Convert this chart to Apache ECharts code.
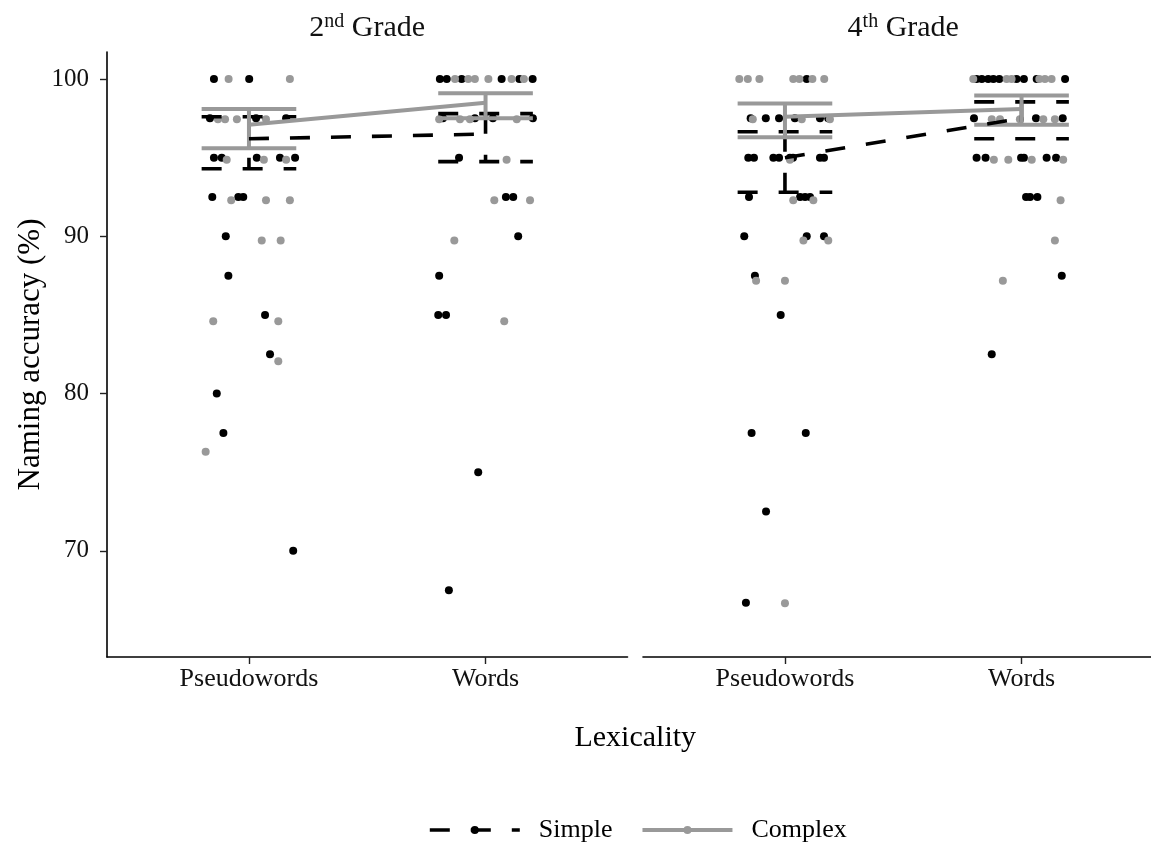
<!DOCTYPE html>
<html><head><meta charset="utf-8">
<script src="https://cdn.jsdelivr.net/npm/echarts@6/dist/echarts.min.js"></script>
<style>html,body{margin:0;padding:0;background:#fff;overflow:hidden;width:1151px;height:857px}#c{width:1175px;height:857px}</style>
</head><body><div id="c"></div>
<script>
// ---------- data ----------
const categories = ['Pseudowords', 'Words'];
const panelTitles = [['2', 'nd', ' Grade'], ['4', 'th', ' Grade']];
const yTickValues = [70, 80, 90, 100];
const legendNames = ['Simple', 'Complex'];
const xTitle = 'Lexicality';
const yTitle = 'Naming accuracy (%)';

// individual points: [position on category axis (1 = Pseudowords, 2 = Words, jittered), accuracy %]
const g2Simple = [
  [0.852,100],[1.001,100],
  [0.835,97.5],[1.030,97.5],[1.157,97.5],
  [0.852,95],[0.885,95],[1.033,95],[1.131,95],[1.195,95],
  [0.845,92.5],[0.955,92.5],[0.976,92.5],
  [0.902,90],[0.913,87.5],[1.068,85],[1.089,82.5],[0.864,80],[0.892,77.5],[1.187,70],
  [1.807,100],[1.836,100],[1.899,100],[2.068,100],[2.143,100],[2.199,100],
  [1.820,97.5],[1.955,97.5],[2.031,97.5],[2.200,97.5],
  [1.888,95],[2.086,92.5],[2.117,92.5],[2.138,90],[1.804,87.5],
  [1.800,85],[1.833,85],[1.969,75],[1.845,67.5]
];
const g2Complex = [
  [0.914,100],[1.173,100],
  [0.869,97.44],[0.899,97.44],[0.949,97.44],[1.072,97.44],
  [0.906,94.87],[1.063,94.87],[1.157,94.87],
  [0.925,92.3],[1.072,92.3],[1.173,92.3],
  [1.054,89.74],[1.134,89.74],[0.849,84.6],[1.124,84.6],[1.124,82.05],[0.817,76.3],
  [1.871,100],[1.927,100],[1.955,100],[2.012,100],[2.110,100],[2.162,100],
  [1.804,97.44],[1.892,97.44],[1.934,97.44],[2.132,97.44],
  [2.089,94.87],[2.037,92.3],[2.188,92.3],[1.868,89.74],[2.079,84.6]
];
const g4Simple = [
  [1.092,100],
  [0.855,97.5],[0.919,97.5],[0.975,97.5],[1.042,97.5],[1.148,97.5],[1.183,97.5],
  [0.845,95],[0.869,95],[0.951,95],[0.975,95],[1.021,95],[1.034,95],[1.148,95],[1.165,95],
  [0.848,92.5],[1.064,92.5],[1.085,92.5],[1.106,92.5],
  [0.828,90],[1.092,90],[1.165,90],[0.873,87.5],[0.982,85],
  [0.859,77.5],[1.088,77.5],[0.920,72.5],[0.835,66.7],
  [1.810,100],[1.832,100],[1.859,100],[1.881,100],[1.906,100],[1.979,100],[2.010,100],[2.064,100],[2.184,100],
  [1.799,97.5],[2.061,97.5],[2.174,97.5],
  [1.810,95],[1.848,95],[1.998,95],[2.010,95],[2.106,95],[2.146,95],
  [2.019,92.5],[2.036,92.5],[2.067,92.5],[2.170,87.5],[1.874,82.5]
];
const g4Complex = [
  [0.807,100],[0.843,100],[0.892,100],[1.035,100],[1.061,100],[1.116,100],[1.166,100],
  [0.864,97.44],[1.071,97.44],[1.190,97.44],
  [1.021,94.87],[1.035,92.3],[1.120,92.3],[1.078,89.74],[1.183,89.74],
  [0.878,87.18],[1.000,87.18],[1.000,66.67],
  [1.796,100],[1.937,100],[1.958,100],[2.075,100],[2.099,100],[2.127,100],
  [1.874,97.44],[1.909,97.44],[1.993,97.44],[2.092,97.44],[2.141,97.44],
  [1.883,94.87],[1.944,94.87],[2.043,94.87],[2.176,94.87],
  [2.165,92.3],[2.141,89.74],[1.921,87.18]
];

// summary: means and error-bar limits per category [Pseudowords, Words]
const g2SimpleMean = [96.2, 96.5], g2SimpleLow = [94.3, 94.75], g2SimpleHigh = [97.6, 97.8];
const g2ComplexMean = [97.1, 98.5], g2ComplexLow = [95.6, 97.5], g2ComplexHigh = [98.1, 99.1];
const g4SimpleMean = [95.0, 97.5], g4SimpleLow = [92.8, 96.2], g4SimpleHigh = [96.65, 98.55];
const g4ComplexMean = [97.6, 98.1], g4ComplexLow = [96.3, 97.1], g4ComplexHigh = [98.45, 98.95];

// ---------- style ----------
const FONT = 'Liberation Serif';
const BLACK = '#000000';
const GRAY = '#999999';
const DASH = [20, 21];
const EB_HALF = 0.2;

const panels = [
  { simple: g2Simple, complex: g2Complex,
    sm: g2SimpleMean, sl: g2SimpleLow, sh: g2SimpleHigh,
    cm: g2ComplexMean, cl: g2ComplexLow, ch: g2ComplexHigh },
  { simple: g4Simple, complex: g4Complex,
    sm: g4SimpleMean, sl: g4SimpleLow, sh: g4SimpleHigh,
    cm: g4ComplexMean, cl: g4ComplexLow, ch: g4ComplexHigh }
];

const gridLeft = [107, 643];
const gridWidth = 520.5;

function errorBarSeries(name, idx, low, high, color, width, dash) {
  const data = categories.map((c, i) => [i + 1, low[i], high[i]]);
  return {
    type: 'custom', name: name + '_eb', xAxisIndex: idx, yAxisIndex: idx,
    encode: { x: 0, y: [1, 2] }, data: data, silent: true, z: 5,
    renderItem: function (params, api) {
      const x = api.value(0), lo = api.value(1), hi = api.value(2);
      const tl = api.coord([x - EB_HALF, hi]), tr = api.coord([x + EB_HALF, hi]);
      const bl = api.coord([x - EB_HALF, lo]), br = api.coord([x + EB_HALF, lo]);
      const t = api.coord([x, hi]), b = api.coord([x, lo]);
      const st = { stroke: color, lineWidth: width, lineDash: dash, fill: null };
      return { type: 'group', children: [
        { type: 'line', shape: { x1: tl[0], y1: tl[1], x2: tr[0], y2: tr[1] }, style: st },
        { type: 'line', shape: { x1: t[0], y1: t[1], x2: b[0], y2: b[1] }, style: st },
        { type: 'line', shape: { x1: bl[0], y1: bl[1], x2: br[0], y2: br[1] }, style: st }
      ]};
    }
  };
}

const grids = [], xAxes = [], yAxes = [], series = [];
panels.forEach((p, idx) => {
  grids.push({ left: gridLeft[idx], width: gridWidth, top: 52, height: 605 });
  xAxes.push({
    type: 'value', gridIndex: idx, min: 0.4, max: 2.6,
    splitLine: { show: false },
    axisLine: { show: true, lineStyle: { color: BLACK, width: 1.6 } },
    axisTick: { show: true, customValues: [1, 2], length: 7, lineStyle: { color: '#222', width: 1.4 } },
    axisLabel: { show: true, customValues: [1, 2], formatter: v => categories[Math.round(v) - 1],
      fontFamily: FONT, fontSize: 26, color: '#111', margin: 9 }
  });
  yAxes.push({
    type: 'value', gridIndex: idx, min: 63.25, max: 101.72,
    splitLine: { show: false },
    axisLine: { show: idx === 0, lineStyle: { color: BLACK, width: 1.6 } },
    axisTick: { show: idx === 0, customValues: yTickValues, length: 7, lineStyle: { color: '#222', width: 1.4 } },
    axisLabel: { show: idx === 0, customValues: yTickValues, fontFamily: FONT, fontSize: 25, color: '#111', margin: 18 },
    name: idx === 0 ? yTitle : '', nameLocation: 'middle', nameGap: 61,
    nameTextStyle: { fontFamily: FONT, fontSize: 31, color: '#000' }
  });
  series.push({ type: 'scatter', name: 'simplePts', xAxisIndex: idx, yAxisIndex: idx, data: p.simple,
    symbolSize: 8, itemStyle: { color: BLACK, opacity: 1 }, z: 2, silent: true });
  series.push({ type: 'scatter', name: 'complexPts', xAxisIndex: idx, yAxisIndex: idx, data: p.complex,
    symbolSize: 8, itemStyle: { color: GRAY, opacity: 1 }, z: 2, silent: true });
  series.push(errorBarSeries('Simple', idx, p.sl, p.sh, BLACK, 3.6, DASH));
  series.push({ type: 'line', name: 'Simple', xAxisIndex: idx, yAxisIndex: idx,
    data: categories.map((c, i) => [i + 1, p.sm[i]]), symbol: 'none', z: 6,
    itemStyle: { color: BLACK }, lineStyle: { color: BLACK, width: 3.6, type: DASH } });
  series.push(errorBarSeries('Complex', idx, p.cl, p.ch, GRAY, 4, null));
  series.push({ type: 'line', name: 'Complex', xAxisIndex: idx, yAxisIndex: idx,
    data: categories.map((c, i) => [i + 1, p.cm[i]]), symbol: 'none', z: 8,
    itemStyle: { color: GRAY }, lineStyle: { color: GRAY, width: 4, type: 'solid' } });
});

const titleGraphics = panelTitles.map((t, idx) => ({
  type: 'text', x: gridLeft[idx] + gridWidth / 2, y: 28,
  style: {
    text: '{a|' + t[0] + '}{s|' + t[1] + '}{a|' + t[2] + '}',
    align: 'center', verticalAlign: 'middle',
    rich: {
      a: { fontFamily: FONT, fontSize: 30, lineHeight: 33, verticalAlign: 'middle', fill: '#111' },
      s: { fontFamily: FONT, fontSize: 20, lineHeight: 33, verticalAlign: 'top', fill: '#111' }
    }
  }
}));

const option = {
  animation: false,
  backgroundColor: '#ffffff',
  grid: grids, xAxis: xAxes, yAxis: yAxes, series: series,
  legend: {
    data: legendNames, left: 428, top: 817, padding: 0, itemWidth: 90, itemHeight: 10, itemGap: 28,
    lineStyle: { width: 'inherit' },
    textStyle: { fontFamily: FONT, fontSize: 26, color: '#000', padding: [0, 0, 0, 14] },
    selectedMode: false
  },
  graphic: titleGraphics.concat([{
    type: 'text', x: gridLeft[0] + (gridLeft[1] + gridWidth - gridLeft[0]) / 2, y: 738,
    style: { text: xTitle, align: 'center', verticalAlign: 'middle', fontFamily: FONT, fontSize: 30, fill: '#000' }
  }])
};

const chart = echarts.init(document.getElementById('c'), null, { renderer: 'canvas' });
chart.setOption(option);
</script>
</body></html>
